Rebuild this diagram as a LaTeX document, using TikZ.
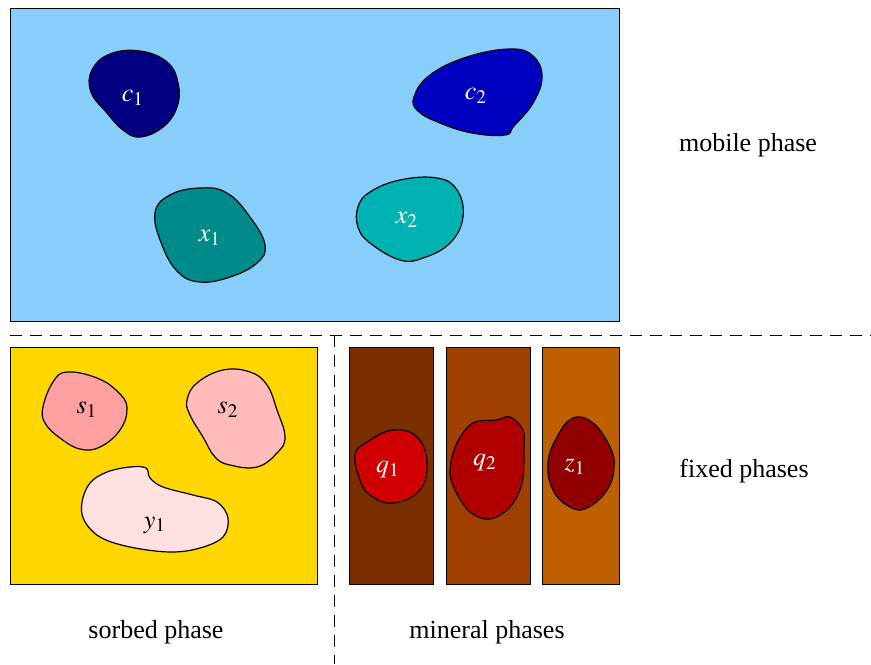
\documentclass[tikz,border=0pt]{standalone}
\usepackage{mathptmx}
\usepackage{fontspec}
\setmainfont{Liberation Serif}
\usepackage{tikz}
\usetikzlibrary{positioning}

\definecolor{mobileblue}{RGB}{135,206,250}
\definecolor{sorbgold}{RGB}{255,215,0}
\definecolor{minA}{RGB}{123,46,0}
\definecolor{minB}{RGB}{160,64,0}
\definecolor{minC}{RGB}{191,96,0}
\definecolor{cone}{RGB}{0,0,128}
\definecolor{ctwo}{RGB}{0,0,192}
\definecolor{xone}{RGB}{0,139,139}
\definecolor{xtwo}{RGB}{0,178,178}
\definecolor{sone}{RGB}{255,160,160}
\definecolor{stwo}{RGB}{255,186,186}
\definecolor{yone}{RGB}{255,224,224}
\definecolor{qone}{RGB}{208,0,0}
\definecolor{qtwo}{RGB}{176,0,0}
\definecolor{zone}{RGB}{144,0,0}

\begin{document}
\begin{tikzpicture}[
    x=0.5pt, y=-0.5pt,
    phasebox/.style={draw, line width=0.5pt},
    blob/.style={draw, line width=0.6pt},
    sep/.style={dashed, dash pattern=on 6pt off 4pt, line width=0.5pt},
    lbl/.style={font=\fontsize{13}{15}\selectfont, inner sep=1pt},
    wlbl/.style={lbl, text=white}
]
\useasboundingbox (0,0) rectangle (871,664);

% phase regions
\draw[phasebox, fill=mobileblue] (10,8) rectangle (619,321);
\draw[phasebox, fill=sorbgold] (10,347) rectangle (317,584);
\draw[phasebox, fill=minA] (349,347) rectangle (433,584);
\draw[phasebox, fill=minB] (446,347) rectangle (530,584);
\draw[phasebox, fill=minC] (542,347) rectangle (619,584);

% separators
\coordinate (hl) at (10,335);
\coordinate (hr) at (871,335);
\coordinate (vt) at (334,335);
\coordinate (vb) at (334,664);
\draw[sep] (hl) -- (hr);
\draw[sep] (vt) -- (vb);

% mobile species
\draw[blob, fill=cone] plot[smooth cycle, tension=0.7] coordinates {(92,70) (110,54) (140,51) (167,62) (178,83) (177,107) (163,127) (140,137) (123,130) (107,113) (91,92)};
\draw[blob, fill=ctwo] plot[smooth cycle, tension=0.7] coordinates {(414,97) (430,75) (467,57) (510,49) (533,56) (542,77) (533,103) (514,126) (505,135) (472,133) (440,123) (418,111)};
\draw[blob, fill=xone] plot[smooth cycle, tension=0.7] coordinates {(155,213) (170,195) (200,188) (227,193) (250,217) (265,245) (257,263) (230,277) (200,282) (178,272) (162,245)};
\draw[blob, fill=xtwo] plot[smooth cycle, tension=0.7] coordinates {(358,207) (370,192) (400,180) (437,178) (457,190) (463,217) (450,243) (423,258) (400,260) (370,243) (358,227)};

% sorbed species
\draw[blob, fill=sone] plot[smooth cycle, tension=0.7] coordinates {(43,407) (53,382) (67,372) (97,378) (118,392) (127,408) (120,430) (100,447) (80,449) (60,438) (45,423)};
\draw[blob, fill=stwo] plot[smooth cycle, tension=0.7] coordinates {(187,400) (197,383) (223,370) (250,372) (267,385) (277,410) (285,437) (277,453) (257,467) (230,465) (215,457) (203,437) (190,415)};
\draw[blob, fill=yone] plot[smooth cycle, tension=0.6] coordinates {(82,502) (90,483) (107,472) (130,467) (146,468) (150,478) (163,487) (193,495) (217,502) (228,518) (223,537) (200,548) (170,552) (130,547) (100,537) (84,520)};

% mineral species
\draw[blob, fill=qone] plot[smooth cycle, tension=0.7] coordinates {(355,455) (367,442) (393,430) (417,437) (427,462) (420,490) (393,503) (370,495) (360,480)};
\draw[blob, fill=qtwo] plot[smooth cycle, tension=0.6] coordinates {(450,470) (457,443) (473,423) (497,420) (510,417) (523,430) (524,450) (522,483) (510,507) (490,519) (470,512) (455,490)};
\draw[blob, fill=zone] plot[smooth cycle, tension=0.7] coordinates {(548,463) (557,437) (573,418) (593,423) (610,447) (614,467) (607,490) (587,508) (570,507) (553,490)};

% species labels
\node[wlbl] (c1) at (133,98) {$c_1$};
\node[wlbl] (c2) at (476,96) {$c_2$};
\node[wlbl] (x1) at (210,238) {$x_1$};
\node[wlbl] (x2) at (407,220) {$x_2$};
\node[lbl] (s1) at (87,410) {$s_1$};
\node[lbl] (s2) at (228,410) {$s_2$};
\node[lbl] (y1) at (155,525) {$y_1$};
\node[wlbl] (q1) at (388,470) {$q_1$};
\node[wlbl] (q2) at (485,463) {$q_2$};
\node[wlbl] (z1) at (575,467) {$z_1$};

% phase labels
\node[lbl] (mobile) at (748,145) {mobile phase};
\node[lbl] (fixed) at (744,471) {fixed phases};
\node[lbl] (sorbed) at (156,632) {sorbed phase};
\node[lbl] (mineral) at (487,632) {mineral phases};
\end{tikzpicture}
\end{document}
